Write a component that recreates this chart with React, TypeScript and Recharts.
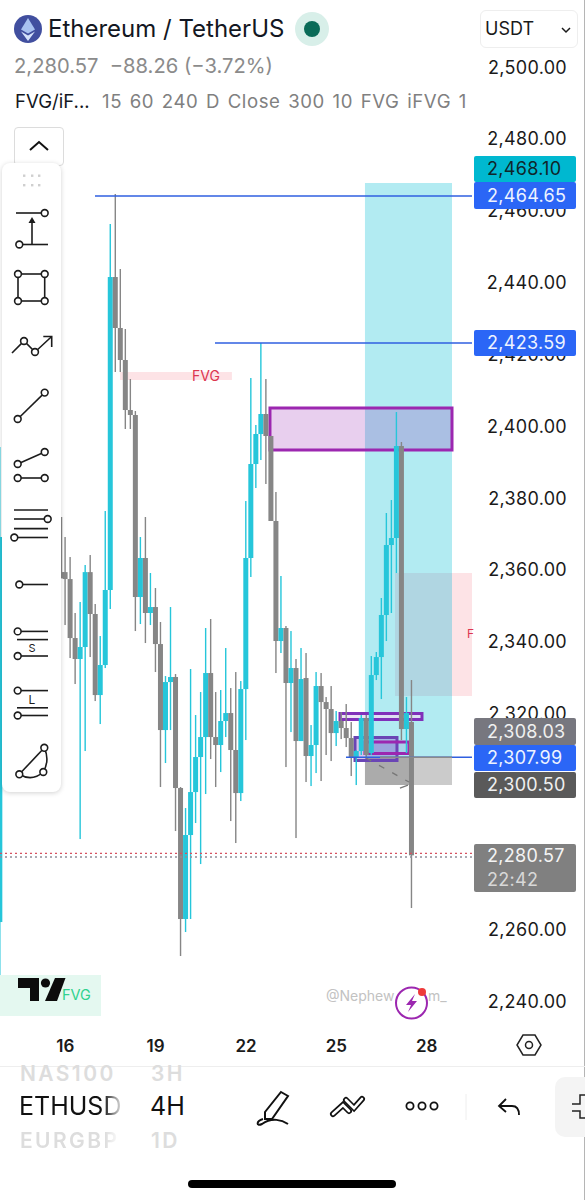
import React from "react";
import { ComposedChart, Bar, XAxis, YAxis, ReferenceArea, ReferenceLine } from "recharts";

const FONT = "Inter, 'Liberation Sans', sans-serif";
const CYAN = "#26c6da";
const GRAY = "#868686";

const slots = [0, 12.3, 13, 14, 15, 16, 17, 18, 19, 20, 21, 22, 23, 24, 25, 26, 27, 28, 29, 30, 31, 32, 33, 34, 35, 36, 37, 38, 39, 40, 41, 42, 43, 44, 45, 46, 47, 48, 49, 50, 51, 52, 53, 54, 55, 56, 57, 58, 59, 60, 61, 62, 63, 64, 65, 66, 67, 68, 69, 70, 71, 72, 73, 74, 75, 76, 77, 78, 79, 80, 81, 82];
const opens = [2262, 2359.4, 2359.4, 2357.47, 2341.05, 2335.21, 2338.55, 2359.4, 2347.74, 2325.18, 2333.54, 2354.42, 2441.54, 2427.35, 2418.44, 2404.52, 2403.13, 2352.47, 2363.33, 2348.02, 2349.68, 2339.38, 2315.44, 2328.8, 2330.2, 2299.3, 2262.84, 2286.22, 2298.18, 2307.93, 2313.49, 2331.31, 2313.49, 2311.27, 2317.95, 2320.17, 2309.88, 2297.9, 2326.85, 2363.33, 2389.49, 2397.84, 2403.41, 2397.29, 2373.63, 2340.22, 2343.84, 2328.53, 2332.7, 2312.38, 2329.92, 2308.21, 2311.27, 2327.69, 2323.23, 2321.29, 2314.6, 2317.95, 2316.0, 2313.21, 2307.93, 2309.6, 2318.78, 2309.04, 2330.75, 2335.76, 2347.46, 2366.94, 2368.89, 2394.5, 2315.72, 2317.67];
const highs = [2394.22, 2374.74, 2369.17, 2363.6, 2348.02, 2351.08, 2361.38, 2364.16, 2350.52, 2341.61, 2376.41, 2456.3, 2464.65, 2443.77, 2427.07, 2413.15, 2404.24, 2369.17, 2374.74, 2359.15, 2354.97, 2345.51, 2330.47, 2349.68, 2331.03, 2299.58, 2293.73, 2332.43, 2319.62, 2326.02, 2343.84, 2346.35, 2326.02, 2326.58, 2338.27, 2327.13, 2331.59, 2329.08, 2379.19, 2413.43, 2400.35, 2423.17, 2413.15, 2397.29, 2381.7, 2358.32, 2344.4, 2343.0, 2335.21, 2338.27, 2336.88, 2316.83, 2331.59, 2331.31, 2324.63, 2327.69, 2320.73, 2320.45, 2322.68, 2317.67, 2309.88, 2319.62, 2319.62, 2336.04, 2337.16, 2352.19, 2375.85, 2379.47, 2403.96, 2395.62, 2324.63, 2329.36];
const lows = [2247.25, 2357.7, 2344.67, 2335.49, 2328.25, 2285.1, 2309.6, 2335.76, 2323.51, 2317.11, 2332.7, 2349.13, 2415.1, 2415.1, 2399.24, 2399.24, 2343.0, 2344.95, 2339.66, 2344.67, 2331.59, 2299.58, 2306.26, 2315.44, 2287.33, 2252.54, 2259.22, 2262.84, 2289.56, 2278.14, 2297.63, 2307.37, 2299.58, 2303.75, 2313.49, 2290.11, 2283.99, 2295.68, 2312.66, 2358.04, 2382.81, 2390.6, 2383.93, 2373.63, 2331.31, 2336.88, 2305.14, 2314.88, 2285.38, 2312.38, 2300.97, 2299.85, 2303.47, 2301.25, 2308.49, 2306.81, 2310.99, 2312.93, 2310.71, 2302.64, 2300.13, 2308.49, 2307.93, 2308.49, 2329.36, 2324.07, 2340.22, 2348.02, 2359.15, 2312.66, 2309.04, 2265.9];
const closes = [2369.17, 2357.7, 2357.47, 2341.05, 2335.21, 2338.55, 2359.4, 2347.74, 2325.18, 2333.54, 2354.42, 2441.54, 2427.35, 2418.44, 2404.52, 2403.13, 2352.47, 2363.33, 2348.02, 2349.68, 2339.38, 2315.44, 2328.8, 2330.2, 2299.3, 2262.84, 2286.22, 2298.18, 2307.93, 2313.49, 2331.31, 2313.49, 2311.27, 2317.95, 2320.17, 2309.88, 2297.9, 2326.85, 2363.33, 2389.49, 2397.84, 2403.41, 2397.29, 2373.63, 2340.22, 2343.84, 2328.53, 2332.7, 2312.38, 2329.64, 2308.21, 2311.27, 2327.69, 2323.23, 2321.29, 2314.6, 2317.95, 2316.0, 2313.21, 2307.93, 2309.6, 2318.78, 2308.49, 2330.75, 2335.76, 2347.46, 2366.94, 2368.89, 2394.5, 2315.72, 2320.17, 2280.57];

const priceTicks = [2500, 2480, 2460, 2440, 2420, 2400, 2380, 2360, 2340, 2320, 2260, 2240];
const dayTicks = [13, 31, 49, 67, 85];
const dayLabels = ["16", "19", "22", "25", "28"];

const candles = slots.map((slot, n) => ({
  slot,
  open: opens[n],
  high: highs[n],
  low: lows[n],
  close: closes[n],
  range: [lows[n], highs[n]],
}));

const BODY_W = 5;

const Candle = (props: any) => {
  const { x, y, width, height, payload } = props;
  const h = Math.abs(height);
  const top = Math.min(y, y + height);
  const cx = x + width / 2;
  const span = payload.high - payload.low || 1;
  const bodyHigh = Math.max(payload.open, payload.close);
  const bodyLow = Math.min(payload.open, payload.close);
  const yTop = top + ((payload.high - bodyHigh) / span) * h;
  const yBot = top + ((payload.high - bodyLow) / span) * h;
  const color = payload.close >= payload.open ? CYAN : GRAY;
  return (
    <g>
      <rect x={cx - 0.7} y={top} width={1.4} height={h} fill={color} />
      <rect x={cx - BODY_W / 2} y={yTop} width={BODY_W} height={Math.max(yBot - yTop, 1)} fill={color} />
    </g>
  );
};

const PriceTick = (props: any) => (
  <text x={567} y={props.y} dy={6.5} textAnchor="end" fontFamily={FONT} fontSize={18} letterSpacing={0.3} fill="#1a1a1a">
    {Number(props.payload.value).toLocaleString("en-US", { minimumFractionDigits: 2 })}
  </text>
);

const tagBase: React.CSSProperties = {
  position: "absolute",
  left: 474,
  width: 102,
  borderRadius: 2,
  fontFamily: FONT,
  fontSize: 18,
  letterSpacing: 0.3,
  paddingLeft: 13,
  boxSizing: "border-box",
};

const Tag = ({ top, height, bg, color, text, sub }: any) => (
  <div style={{ ...tagBase, top, height, background: bg, color, lineHeight: `${sub ? 24 : height}px` }}>
    {text}
    {sub ? <div style={{ color: "#d8d8d8" }}>{sub}</div> : null}
  </div>
);

const abs = (left: number, top: number, extra: React.CSSProperties = {}): React.CSSProperties => ({
  position: "absolute",
  left,
  top,
  fontFamily: FONT,
  whiteSpace: "nowrap",
  ...extra,
});

const Dot = ({ x, y }: any) => <circle cx={x} cy={y} r={3.4} fill="#fff" stroke="#1c1c1c" strokeWidth={1.6} />;
const L = ({ a, b, c, d }: any) => <line x1={a} y1={b} x2={c} y2={d} stroke="#1c1c1c" strokeWidth={1.6} />;

const Toolbar = () => (
  <svg width={62} height={640} style={{ position: "absolute", left: 0, top: 160 }} viewBox="0 160 62 640">
    {[24, 32, 39].map((x) => [175.5, 185].map((y) => <rect key={`${x}-${y}`} x={x - 1} y={y - 1} width={2.4} height={2.4} fill="#cfcfcf" />))}
    <L a={16} b={213} c={42} d={213} /><Dot x={44.7} y={213} />
    <L a={22} b={244.5} c={48} d={244.5} /><Dot x={19.3} y={244.5} />
    <L a={32} b={244} c={32} d={222} /><path d="M28.5 223 L32 217 L35.5 223 Z" fill="#1c1c1c" />
    <L a={18} b={274} c={44.7} d={274} /><L a={18} b={301} c={44.7} d={301} /><L a={18} b={274} c={18} d={301} /><L a={44.7} b={274} c={44.7} d={301} />
    <Dot x={18} y={274} /><Dot x={44.7} y={274} /><Dot x={18} y={301} /><Dot x={44.7} y={301} />
    <polyline points="12,353 24,341 35,352 51.7,336.5" fill="none" stroke="#1c1c1c" strokeWidth={1.6} />
    <polyline points="43.3,336.5 51.7,336.5 51.7,347" fill="none" stroke="#1c1c1c" strokeWidth={1.6} />
    <Dot x={24} y={341} /><Dot x={35} y={352} />
    <L a={17.7} b={419} c={44.7} d={392.6} /><Dot x={17.7} y={419} /><Dot x={44.7} y={392.6} />
    <L a={17.7} b={464} c={44.7} d={452} /><Dot x={17.7} y={464} /><Dot x={44.7} y={452} />
    <L a={17.7} b={478} c={44.7} d={478} /><Dot x={17.7} y={478} /><Dot x={44.7} y={478} />
    <L a={14} b={510} c={48} d={510} /><L a={14} b={519} c={46} d={519} /><L a={14} b={528.6} c={48} d={528.6} /><L a={16} b={537.5} c={48} d={537.5} />
    <Dot x={47.7} y={519} /><Dot x={14.3} y={537.5} />
    <L a={22} b={584.5} c={48} d={584.5} /><Dot x={19.3} y={584.5} />
    <L a={20} b={631.4} c={48} d={631.4} /><Dot x={17.7} y={631.4} /><L a={17} b={639.6} c={48} d={639.6} />
    <text x={32} y={652} fontSize={11} textAnchor="middle" fontFamily={FONT} fill="#1c1c1c">S</text>
    <L a={20} b={656} c={48} d={656} /><Dot x={17.7} y={656} />
    <L a={20} b={690.6} c={48} d={690.6} /><Dot x={17.7} y={690.6} />
    <text x={32} y={704} fontSize={12} textAnchor="middle" fontFamily={FONT} fill="#1c1c1c">L</text>
    <L a={17} b={707.8} c={48} d={707.8} /><L a={20} b={715.5} c={48} d={715.5} /><Dot x={17.7} y={715.5} />
    <L a={19.3} b={774.3} c={44.3} d={747.8} />
    <path d="M44.3 747.8 Q50 760 43.3 772 M19.3 774.3 Q32 782 43.3 772" fill="none" stroke="#1c1c1c" strokeWidth={1.6} />
    <Dot x={44.3} y={747.8} /><Dot x={19.3} y={774.3} /><Dot x={43.3} y={772} />
  </svg>
);

const faded: React.CSSProperties = { fontSize: 21, fontWeight: 600, letterSpacing: 2.4, color: "#dddddd", lineHeight: "24px" };

export default function App() {
  return (
    <div style={{ position: "absolute", left: 0, top: 0, width: 585, height: 1200, background: "#fff", overflow: "hidden" }}>
      <ComposedChart
        width={585}
        height={1200}
        data={candles}
        margin={{ top: 0, right: 0, bottom: 140, left: 0 }}
        style={{ position: "absolute", left: 0, top: 0 }}
      >
        <XAxis
          type="number"
          dataKey="slot"
          domain={[0, 116.534]}
          allowDataOverflow
          ticks={dayTicks}
          interval={0}
          height={40}
          axisLine={false}
          tickLine={false}
          tickMargin={14}
          tickFormatter={(v: number) => dayLabels[dayTicks.indexOf(v)]}
          tick={{ fill: "#1a1a1a", fontSize: 17, fontWeight: 600, fontFamily: FONT }}
        />
        <YAxis
          type="number"
          orientation="right"
          mirror
          width={60}
          domain={[2234.73, 2518.65]}
          allowDataOverflow
          ticks={priceTicks}
          interval={0}
          axisLine={false}
          tickLine={false}
          tick={(p: any) => <PriceTick {...p} />}
        />
        <ReferenceArea x1={72.7} x2={90.04} y1={2307.65} y2={2467.7} fill="#b2ebf2" fillOpacity={1} stroke="none" />
        <ReferenceArea x1={72.7} x2={81.47} y1={2300.13} y2={2307.65} fill="#ababab" fillOpacity={1} stroke="none" />
        <ReferenceArea x1={81.47} x2={90.04} y1={2300.13} y2={2307.65} fill="#cbcbcb" fillOpacity={1} stroke="none" />
        <ReferenceArea x1={90.04} x2={94.02} y1={2324.91} y2={2359.15} fill="#fde3e6" fillOpacity={1} stroke="none" />
        <ReferenceArea x1={78.69} x2={90.04} y1={2324.91} y2={2359.15} fill="#b0d6e2" fillOpacity={1} stroke="none" />
        <ReferenceArea x1={23.9} x2={46.2} y1={2412.87} y2={2415.1} fill="#fde3e6" fillOpacity={1} stroke="none" />
        <ReferenceArea x1={53.78} x2={90.04} y1={2393.39} y2={2405.08} fill="#8c0faa" fillOpacity={0.2} stroke="#9c27b0" strokeWidth={3} />
        <ReferenceArea x1={67.73} x2={84.06} y1={2318.37} y2={2320.03} fill="#e9dcf3" fillOpacity={0.8} stroke="#8030ba" strokeWidth={3} />
        <ReferenceArea x1={70.72} x2={79.08} y1={2306.96} y2={2313.36} fill="#7a3fc0" fillOpacity={0.3} stroke="#6a45b5" strokeWidth={3} />
        <ReferenceArea x1={72.7} x2={81.47} y1={2308.9} y2={2312.1} fill="#7a3fc0" fillOpacity={0.15} stroke="#9c27b0" strokeWidth={3} />
        <ReferenceLine segment={[{ x: 18.92, y: 2464.1 }, { x: 94.02, y: 2464.1 }]} stroke="#2f5fe0" strokeWidth={1.5} />
        <ReferenceLine segment={[{ x: 42.83, y: 2423.2 }, { x: 94.02, y: 2423.2 }]} stroke="#2f5fe0" strokeWidth={1.5} />
        <ReferenceLine segment={[{ x: 68.92, y: 2307.85 }, { x: 94.02, y: 2307.85 }]} stroke="#2f5fe0" strokeWidth={1.5} />
        <ReferenceLine segment={[{ x: 75.7, y: 2307.85 }, { x: 90.04, y: 2307.85 }]} stroke="#8a8a8a" strokeWidth={1.5} />
        <ReferenceLine segment={[{ x: 0, y: 2281.1 }, { x: 94.02, y: 2281.1 }]} stroke="#d8505f" strokeWidth={1.3} strokeDasharray="2 3" />
        <ReferenceLine segment={[{ x: 0, y: 2280.1 }, { x: 94.02, y: 2280.1 }]} stroke="#8f8f9a" strokeWidth={1.3} strokeDasharray="2 3" />
        <ReferenceLine segment={[{ x: 72.9, y: 2307.65 }, { x: 81.47, y: 2300.97 }]} stroke="#777" strokeWidth={1.3} strokeDasharray="6 9" />
        <ReferenceLine segment={[{ x: 79.68, y: 2299.3 }, { x: 81.27, y: 2300.13 }]} stroke="#777" strokeWidth={1.3} />
        <Bar dataKey="range" barSize={5} isAnimationActive={false} shape={<Candle />} />
      </ComposedChart>

      {/* price tags */}
      <Tag top={156} height={26} bg="#00b8d0" color="#10252a" text="2,468.10" />
      <Tag top={182} height={27} bg="#2b66f6" color="#eef3ff" text="2,464.65" />
      <Tag top={330} height={26} bg="#2b66f6" color="#eef3ff" text="2,423.59" />
      <Tag top={718} height={27} bg="#77777f" color="#f0f0f0" text="2,308.03" />
      <Tag top={745} height={26} bg="#2b66f6" color="#eef3ff" text="2,307.99" />
      <Tag top={772} height={26} bg="#5a5a5a" color="#f0f0f0" text="2,300.50" />
      <Tag top={844} height={48} bg="#808080" color="#f4f4f4" text="2,280.57" sub="22:42" />
      <div style={{ position: "absolute", left: 584, top: 0, width: 1, height: 1200, background: "#b5b5b5" }} />

      {/* chart labels */}
      <div style={abs(192, 367, { fontSize: 14, color: "#dc3550" })}>FVG</div>
      <div style={abs(467, 626, { fontSize: 12, color: "#dc3550" })}>F</div>

      {/* header */}
      <svg width={40} height={40} style={{ position: "absolute", left: 8, top: 9 }}>
        <circle cx={20} cy={20} r={14} fill="#414f9f" />
        <path d="M20 9 L27 20.5 L20 24.5 L13 20.5 Z" fill="#a9c2f0" />
        <path d="M20 26.5 L27 22.5 L20 32 L13 22.5 Z" fill="#d5e2fa" />
      </svg>
      <div style={abs(48, 14, { fontSize: 24, color: "#131722" })}>Ethereum / TetherUS</div>
      <svg width={40} height={40} style={{ position: "absolute", left: 292, top: 9 }}>
        <circle cx={20} cy={20} r={17} fill="#d8efe9" />
        <circle cx={20} cy={20} r={8} fill="#0a6b58" />
      </svg>
      <div style={{ position: "absolute", left: 480, top: 10, width: 98, height: 38, boxSizing: "border-box", border: "1px solid #eeeeee", borderRadius: 6 }} />
      <div style={abs(485, 18, { fontSize: 18, color: "#1a1a1a" })}>USDT</div>
      <svg width={14} height={10} style={{ position: "absolute", left: 559, top: 26 }}>
        <polyline points="3,2 7,6 11,2" fill="none" stroke="#1a1a1a" strokeWidth={1.5} />
      </svg>
      <div style={abs(14, 53, { fontSize: 20.2, color: "#8b8b8b" })}>2,280.57&nbsp; −88.26 (−3.72%)</div>
      <div style={abs(15, 90, { fontSize: 18.6, color: "#131722" })}>FVG/iF...</div>
      <div style={{ ...abs(102, 90, { fontSize: 18.6, letterSpacing: 0.6, wordSpacing: 1.8, color: "#808080" }), width: 366, overflow: "hidden" }}>15 60 240 D Close 300 10 FVG iFVG 1</div>
      <div style={{ position: "absolute", left: 14, top: 127, width: 50, height: 39, boxSizing: "border-box", border: "1px solid #dcdcdc", borderRadius: 4, background: "#fff" }} />
      <svg width={24} height={14} style={{ position: "absolute", left: 27, top: 139 }}>
        <polyline points="3,11 12,3 21,11" fill="none" stroke="#111" strokeWidth={2} />
      </svg>

      {/* toolbar */}
      <div style={{ position: "absolute", left: 2, top: 163, width: 59, height: 629, background: "#fff", borderRadius: 8, boxShadow: "0 1px 5px rgba(0,0,0,0.18)" }} />
      <Toolbar />

      {/* watermark */}
      <div style={{ position: "absolute", left: 0, top: 975, width: 101, height: 41, background: "#e4f8f0" }} />
      <svg width={70} height={30} style={{ position: "absolute", left: 0, top: 975 }} viewBox="0 975 70 30">
        <path d="M18 978 H39 V1001 H30 V988 H18 Z" fill="#0c0c0c" />
        <circle cx={45.5} cy={983} r={4.6} fill="#0c0c0c" />
        <path d="M55 978 H65.5 L57 1001 H45 Z" fill="#0c0c0c" />
      </svg>
      <div style={abs(62, 986, { fontSize: 14.5, color: "#2fd28e" })}>FVG</div>
      <div style={abs(326, 987, { fontSize: 14, color: "#c2c2c2", width: 72, overflow: "hidden" })}>@Nephew</div>
      <div style={abs(428, 987, { fontSize: 14, color: "#c2c2c2" })}>m_</div>
      <svg width={44} height={44} style={{ position: "absolute", left: 390, top: 981 }}>
        <circle cx={21.5} cy={22} r={15.5} fill="#fff" stroke="#9c27b0" strokeWidth={2} />
        <path d="M25 13 L16 24 H21 L18 31 L27 20 H22 Z" fill="#9c27b0" />
        <circle cx={32} cy={11} r={4} fill="#ee3a3a" />
      </svg>
      <svg width={30} height={30} style={{ position: "absolute", left: 514, top: 1030 }}>
        <path d="M9 5 H21 L27 15 L21 25 H9 L3 15 Z" fill="none" stroke="#222" strokeWidth={1.5} />
        <circle cx={15} cy={15} r={3.5} fill="none" stroke="#222" strokeWidth={1.5} />
      </svg>

      {/* bottom bar */}
      <div style={{ position: "absolute", left: 0, top: 1066, width: 585, height: 1, background: "#eeeeee" }} />
      <div style={abs(20, 1062, { ...faded, width: 100, overflow: "hidden" })}>NAS100</div>
      <div style={abs(151, 1062, faded)}>3H</div>
      <div style={abs(19, 1091, { fontSize: 25, color: "#111", width: 105, overflow: "hidden", WebkitMaskImage: "linear-gradient(90deg,#000 80%,transparent)" })}>ETHUSD</div>
      <div style={abs(150, 1091, { fontSize: 25, color: "#111" })}>4H</div>
      <div style={abs(20, 1129, { ...faded, width: 100, overflow: "hidden", WebkitMaskImage: "linear-gradient(90deg,#000 85%,transparent)" })}>EURGBP</div>
      <div style={abs(151, 1129, faded)}>1D</div>
      <svg width={330} height={60} style={{ position: "absolute", left: 250, top: 1080 }} viewBox="250 1080 330 60">
        <path d="M281 1092 L288 1096 L272 1119 L265 1119 L265 1112 Z" fill="none" stroke="#111" strokeWidth={2} />
        <path d="M263 1119 C256 1121 256 1127 262 1124 C272 1117 282 1120 288 1124" fill="none" stroke="#111" strokeWidth={2} />
        <path d="M333 1114 L343 1105 L349 1111" fill="none" stroke="#111" strokeWidth={6} strokeLinecap="round" />
        <path d="M346 1100 L354 1108 L362 1099" fill="none" stroke="#111" strokeWidth={6} strokeLinecap="round" />
        <path d="M333 1114 L343 1105 L349 1111" fill="none" stroke="#fff" strokeWidth={2.6} strokeLinecap="round" />
        <path d="M346 1100 L354 1108 L362 1099" fill="none" stroke="#fff" strokeWidth={2.6} strokeLinecap="round" />
        <circle cx={410} cy={1106} r={3.6} fill="none" stroke="#111" strokeWidth={1.8} />
        <circle cx={422} cy={1106} r={3.6} fill="none" stroke="#111" strokeWidth={1.8} />
        <circle cx={434} cy={1106} r={3.6} fill="none" stroke="#111" strokeWidth={1.8} />
        <line x1={466} y1={1094} x2={466} y2={1120} stroke="#eeeeee" />
        <path d="M506 1099 L499 1106 L506 1112 M499 1106 H512 Q519 1106 519 1115" fill="none" stroke="#111" strokeWidth={1.8} />
      </svg>
      <div style={{ position: "absolute", left: 555, top: 1077, width: 40, height: 60, background: "#f4f4f4", borderRadius: 10 }} />
      <svg width={30} height={30} style={{ position: "absolute", left: 555, top: 1092 }}>
        <path d="M30 3 H25 V12 H17 M17 19 H25 V26 H30" fill="none" stroke="#222" strokeWidth={1.5} />
      </svg>
      <div style={{ position: "absolute", left: 188, top: 1180, width: 208, height: 8, borderRadius: 4, background: "#000" }} />
    </div>
  );
}
